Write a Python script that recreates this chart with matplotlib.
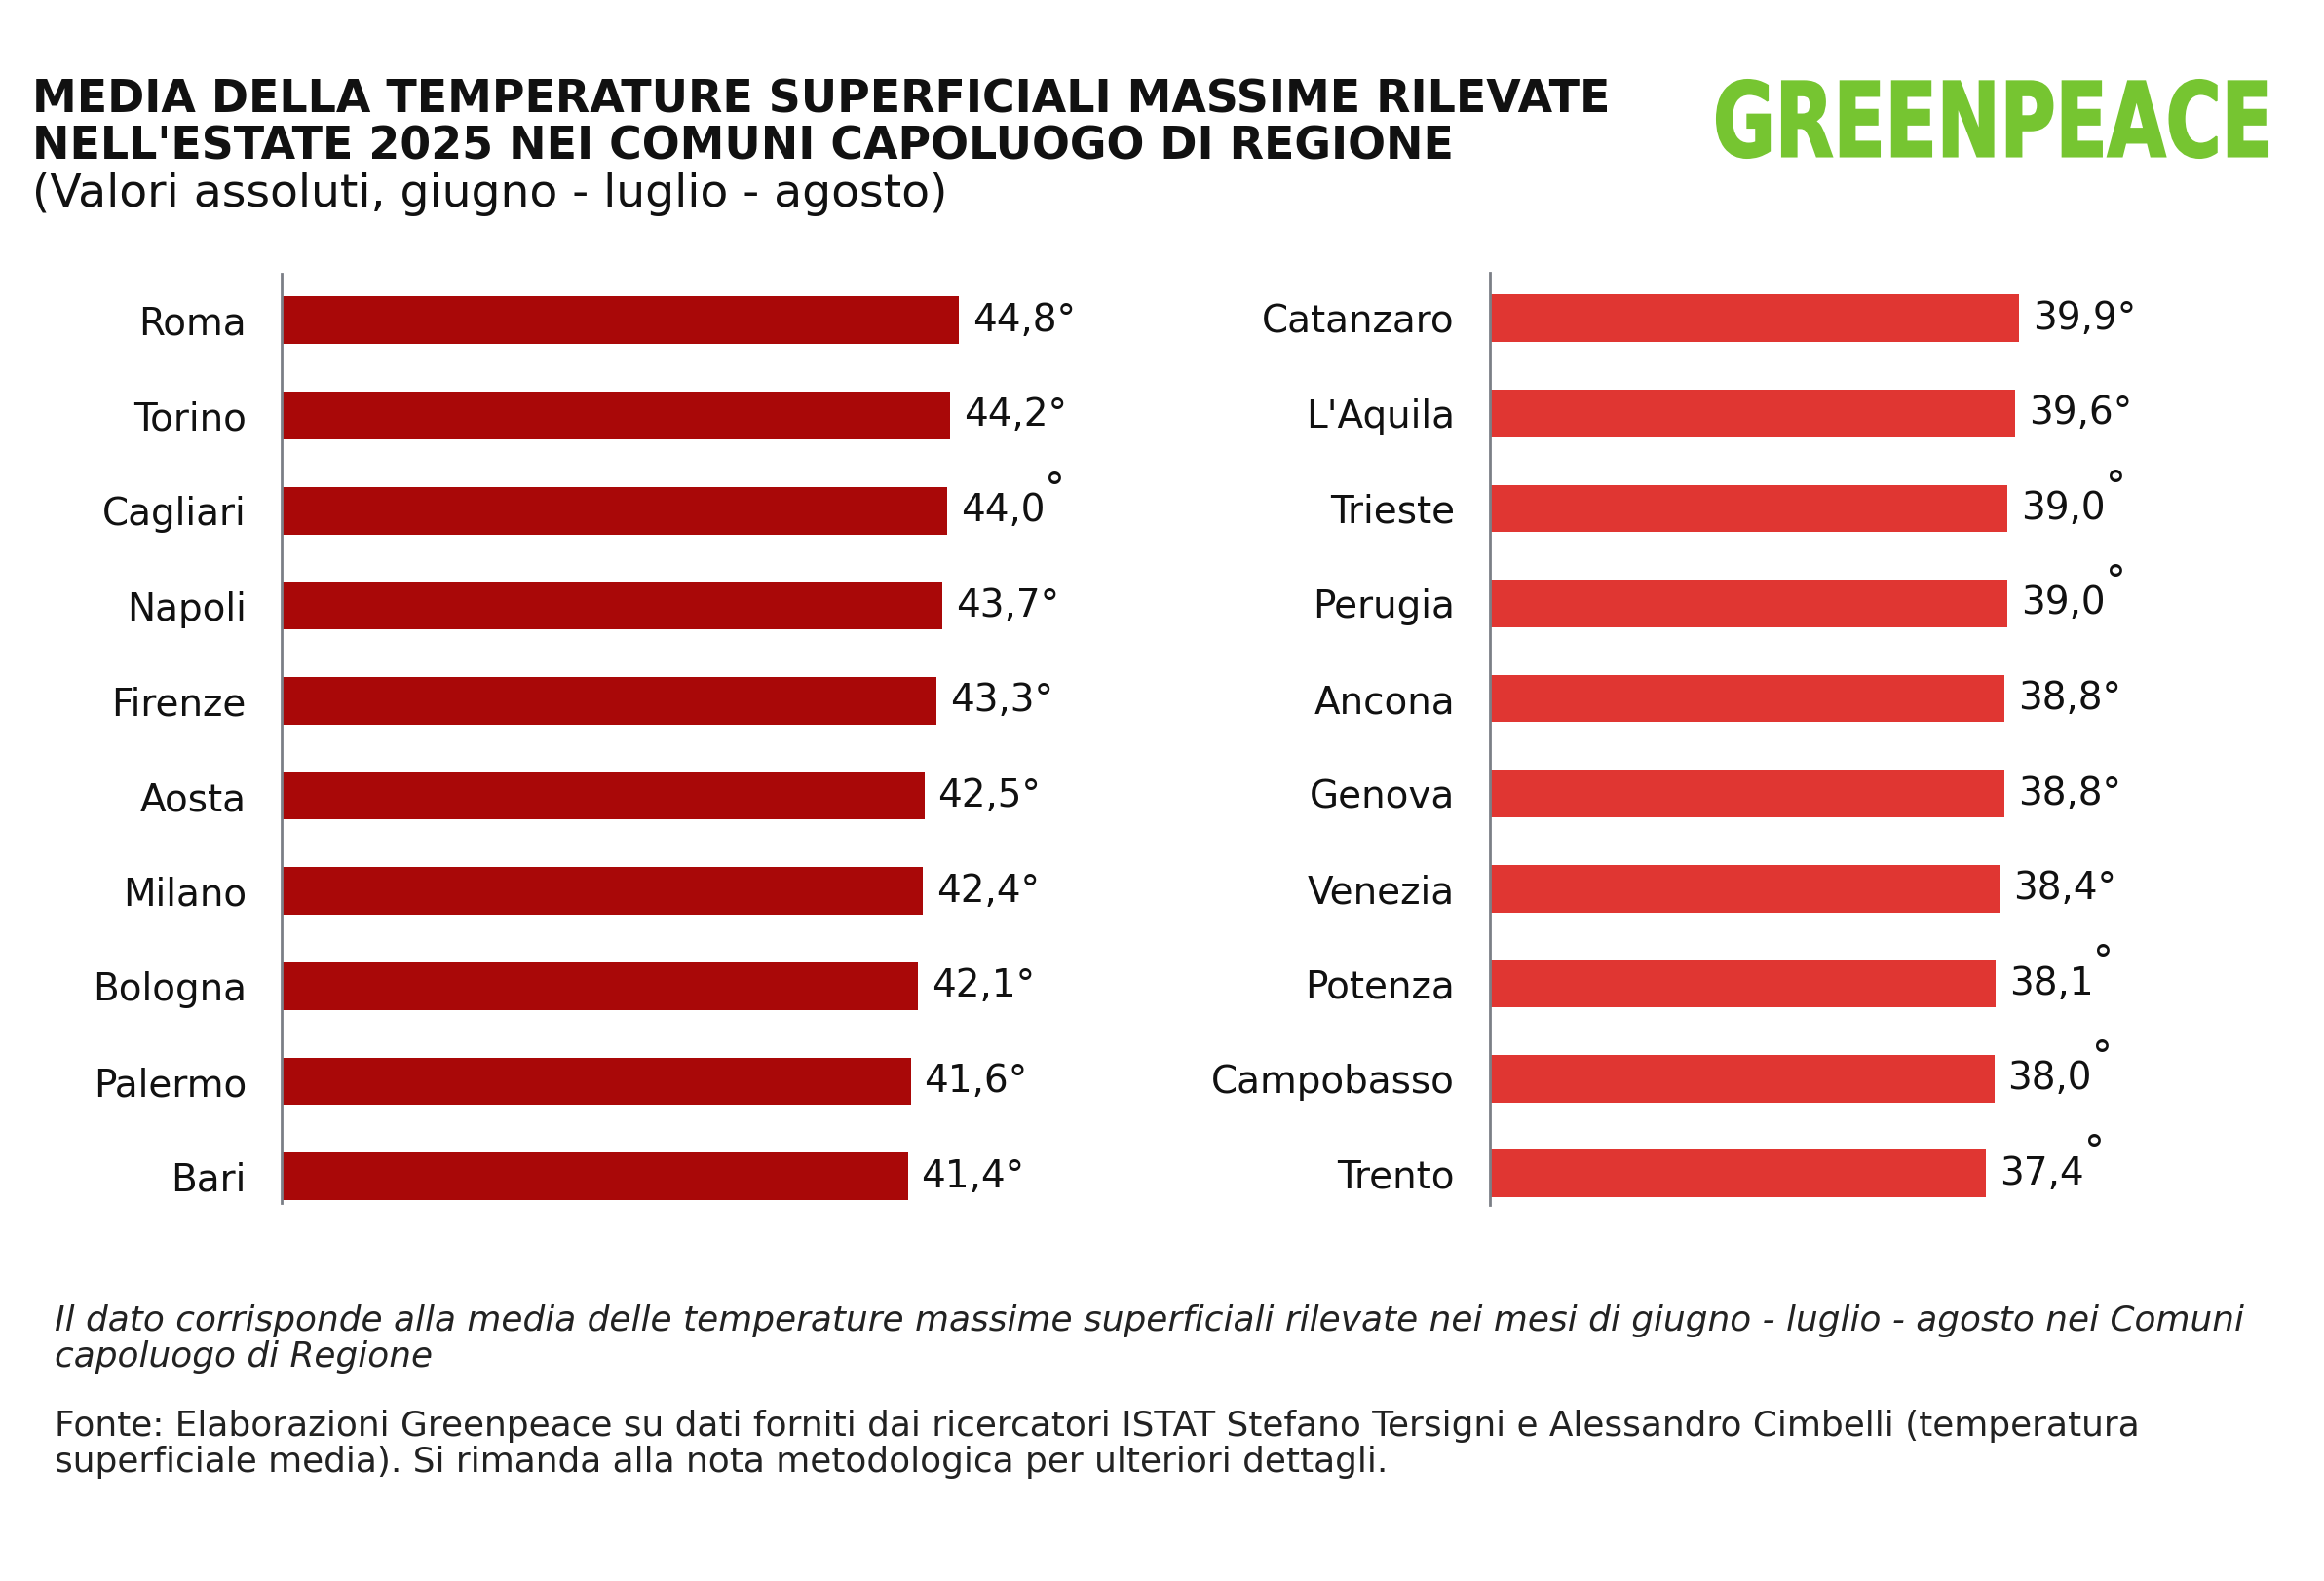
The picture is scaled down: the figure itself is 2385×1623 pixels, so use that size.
import matplotlib
matplotlib.use("Agg")
from matplotlib import pyplot as plt
from matplotlib.textpath import TextPath
from matplotlib.font_manager import FontProperties
from matplotlib.patches import PathPatch
from matplotlib.transforms import Affine2D

# data
left_cities = ["Roma", "Torino", "Cagliari", "Napoli", "Firenze",
               "Aosta", "Milano", "Bologna", "Palermo", "Bari"]
left_values = [44.8, 44.2, 44.0, 43.7, 43.3, 42.5, 42.4, 42.1, 41.6, 41.4]

right_cities = ["Catanzaro", "L'Aquila", "Trieste", "Perugia", "Ancona",
                "Genova", "Venezia", "Potenza", "Campobasso", "Trento"]
right_values = [39.9, 39.6, 39.0, 39.0, 38.8, 38.8, 38.4, 38.1, 38.0, 37.4]

# labels whose degree sign sits raised in the original
left_raised = ["Cagliari"]
right_raised = ["Trieste", "Perugia", "Potenza", "Campobasso", "Trento"]

W, H = 2385, 1623
fig = plt.figure(figsize=(W / 100, H / 100), dpi=100)
plt.rcParams['font.family'] = ['DejaVu Sans']

SPINE = "#7b7f86"
TXT = "#111111"


def px_axes(x0, y_top, width, y_bot):
    return fig.add_axes([x0 / W, 1 - y_bot / H, width / W, (y_bot - y_top) / H])


def draw_panel(ax, cities, values, color, xmax, ylim, raised):
    y = list(range(len(cities)))
    ax.barh(y, values, height=0.5, color=color)
    ax.set_xlim(0, xmax)
    ax.set_ylim(*ylim)
    for s in ["top", "right", "bottom"]:
        ax.spines[s].set_visible(False)
    ax.spines["left"].set_color(SPINE)
    ax.spines["left"].set_linewidth(2)
    ax.set_xticks([])
    ax.set_yticks(y)
    ax.set_yticklabels(cities, fontsize=28, color=TXT)
    ax.tick_params(axis="y", length=0, pad=26)
    for yi, v, c in zip(y, values, cities):
        txt = f"{v:.1f}".replace(".", ",")
        if c in raised:
            t = ax.annotate(txt, (v, yi), xytext=(10, 0), textcoords="offset points",
                            va="center", ha="left", fontsize=28, color=TXT)
            fig.canvas.draw()
            bb = t.get_window_extent()
            ax.annotate("°", (bb.x1, bb.y1), xycoords="figure pixels",
                        xytext=(0, 1), textcoords="offset points",
                        va="center", ha="left", fontsize=30, color=TXT)
        else:
            ax.annotate(txt + "°", (v, yi), xytext=(10, 0), textcoords="offset points",
                        va="center", ha="left", fontsize=28, color=TXT)


ax1 = px_axes(289, 281, 800, 1235)
draw_panel(ax1, left_cities, left_values, "#a90808", 800 / 15.52, (9.28, -0.49), left_raised)

ax2 = px_axes(1529, 280, 700, 1237)
draw_panel(ax2, right_cities, right_values, "#e03632", 700 / 13.62, (9.33, -0.48), right_raised)

# title block
fig.text(33 / W, 1 - 103 / H, "MEDIA DELLA TEMPERATURE SUPERFICIALI MASSIME RILEVATE",
         fontsize=33, fontweight="heavy", va="center", ha="left", color=TXT)
fig.text(33 / W, 1 - 151 / H, "NELL'ESTATE 2025 NEI COMUNI CAPOLUOGO DI REGIONE",
         fontsize=33, fontweight="heavy", va="center", ha="left", color=TXT)
fig.text(33 / W, 1 - 199 / H, "(Valori assoluti, giugno - luglio - agosto)",
         fontsize=34, fontweight="normal", va="center", ha="left", color=TXT)

# logo: text path stretched into the logo box
logo = TextPath((0, 0), "GREENPEACE", size=100,
                prop=FontProperties(family="DejaVu Sans", weight="bold"))
ext = logo.get_extents()
box_x0, box_x1, box_top, box_bot = 1762, 2327, 82, 162
sx = (box_x1 - box_x0) / ext.width
sy = (box_bot - box_top) / ext.height
tr = Affine2D().translate(-ext.x0, -ext.y0).scale(sx, sy).translate(box_x0, H - box_bot)
fig.patches.append(PathPatch(logo, transform=tr, facecolor="#76c531",
                             edgecolor="#76c531", linewidth=1.5))

# notes
NOTE = 25.8
fig.text(56 / W, 1 - 1356 / H,
         "Il dato corrisponde alla media delle temperature massime superficiali rilevate nei mesi di giugno - luglio - agosto nei Comuni",
         fontsize=NOTE, style="italic", va="center", ha="left", color="#222222")
fig.text(56 / W, 1 - 1393 / H, "capoluogo di Regione",
         fontsize=NOTE, style="italic", va="center", ha="left", color="#222222")
fig.text(56 / W, 1 - 1464 / H,
         "Fonte: Elaborazioni Greenpeace su dati forniti dai ricercatori ISTAT Stefano Tersigni e Alessandro Cimbelli (temperatura",
         fontsize=NOTE, va="center", ha="left", color="#222222")
fig.text(56 / W, 1 - 1501 / H,
         "superficiale media). Si rimanda alla nota metodologica per ulteriori dettagli.",
         fontsize=NOTE, va="center", ha="left", color="#222222")

fig.savefig("out.png", dpi=100, facecolor="white")
